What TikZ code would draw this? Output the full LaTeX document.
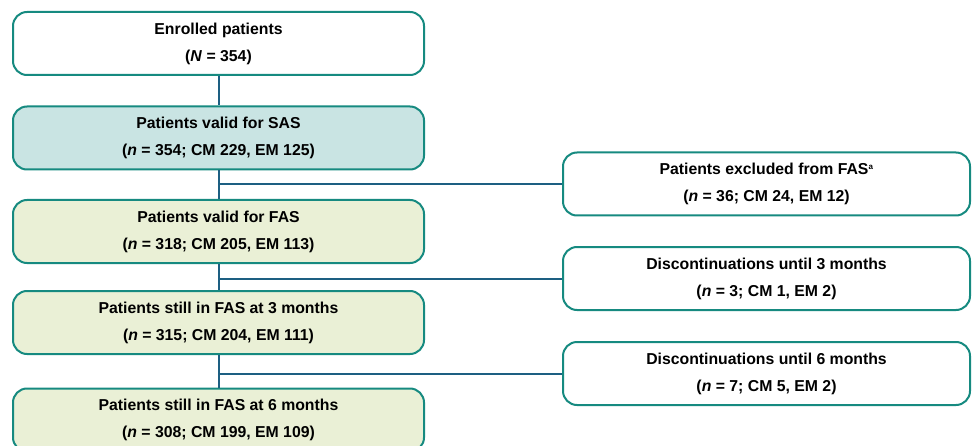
\documentclass[tikz,border=0pt]{standalone}
\usepackage{fontspec}
\setmainfont{Liberation Sans}
\definecolor{bordc}{HTML}{168A80}
\definecolor{linec}{HTML}{1D5F82}
\definecolor{sasfill}{HTML}{C9E4E3}
\definecolor{fasfill}{HTML}{EAF0D6}
\begin{document}
\begin{tikzpicture}[x=1pt,y=-1pt,
  box/.style={draw=bordc,line width=2pt,rounded corners=14pt,fill=white,
    align=center,font=\bfseries\fontsize{15.8}{27}\selectfont,inner sep=0pt},
  lbox/.style={box,minimum width=411pt,minimum height=63pt},
  rbox/.style={box,minimum width=407pt,minimum height=63pt},
  conn/.style={draw=linec,line width=2pt}]
\useasboundingbox (0,0) rectangle (973,446);
\node[lbox] (enr) at (218.5,43.5) {Enrolled patients\\(\textit{N} = 354)};
\node[lbox,fill=sasfill] (sas) at (218.5,138) {Patients valid for SAS\\(\textit{n} = 354; CM 229, EM 125)};
\node[lbox,fill=fasfill] (fas) at (218.5,231.5) {Patients valid for FAS\\(\textit{n} = 318; CM 205, EM 113)};
\node[lbox,fill=fasfill] (m3) at (218.5,322.5) {Patients still in FAS at 3 months\\(\textit{n} = 315; CM 204, EM 111)};
\node[lbox,fill=fasfill] (m6) at (218.5,420) {Patients still in FAS at 6 months\\(\textit{n} = 308; CM 199, EM 109)};
\node[rbox] (exc) at (766.5,184) {Patients excluded from FAS\textsuperscript{\fontsize{8}{8}\selectfont a}\\(\textit{n} = 36; CM 24, EM 12)};
\node[rbox] (d3) at (766.5,278.5) {Discontinuations until 3 months\\(\textit{n} = 3; CM 1, EM 2)};
\node[rbox] (d6) at (766.5,373.5) {Discontinuations until 6 months\\(\textit{n} = 7; CM 5, EM 2)};
\draw[conn] (enr.south) -- (sas.north);
\draw[conn] (sas.south) -- (fas.north);
\draw[conn] (fas.south) -- (m3.north);
\draw[conn] (m3.south) -- (m6.north);
\draw[conn] (sas.south |- exc.west) -- (exc.west);
\draw[conn] (fas.south |- d3.west) -- (d3.west);
\draw[conn] (m3.south |- d6.west) -- (d6.west);
\end{tikzpicture}
\end{document}
